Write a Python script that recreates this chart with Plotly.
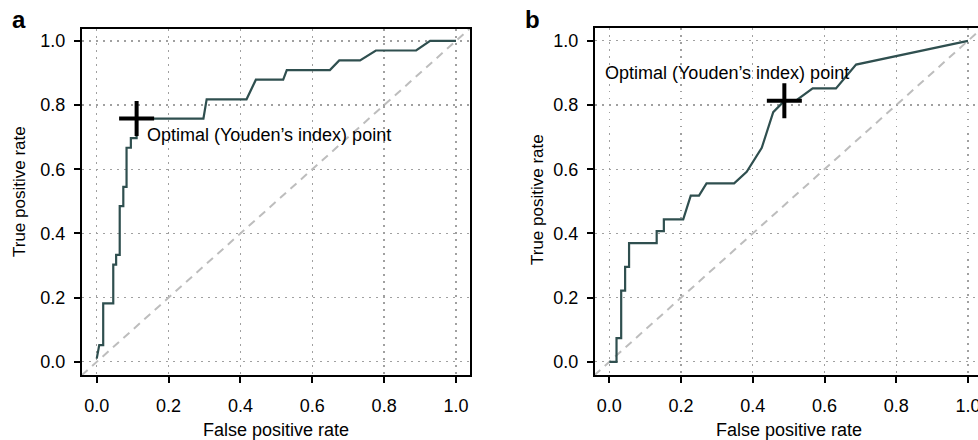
import plotly.graph_objects as go

# ---- data ----
ticks = [0.0, 0.2, 0.4, 0.6, 0.8, 1.0]
tick_labels = ["0.0", "0.2", "0.4", "0.6", "0.8", "1.0"]

fpr_a = [0.0, 0.007, 0.007, 0.018, 0.018, 0.046, 0.046, 0.054, 0.054, 0.064, 0.064,
         0.074, 0.074, 0.083, 0.083, 0.095, 0.095, 0.111, 0.111, 0.297, 0.306, 0.417,
         0.443, 0.519, 0.529, 0.649, 0.675, 0.733, 0.777, 0.889, 0.928, 1.0]
tpr_a = [0.01, 0.045, 0.052, 0.052, 0.182, 0.182, 0.303, 0.303, 0.333, 0.333, 0.485,
         0.485, 0.545, 0.545, 0.667, 0.667, 0.697, 0.697, 0.758, 0.758, 0.818, 0.818,
         0.879, 0.879, 0.909, 0.909, 0.939, 0.939, 0.970, 0.970, 1.0, 1.0]

fpr_b = [0.0, 0.02, 0.02, 0.033, 0.033, 0.044, 0.044, 0.055, 0.055, 0.132, 0.132,
         0.152, 0.152, 0.206, 0.227, 0.25, 0.271, 0.348, 0.383, 0.425, 0.457, 0.49,
         0.522, 0.567, 0.632, 0.688, 1.0]
tpr_b = [0.0, 0.0, 0.074, 0.074, 0.222, 0.222, 0.296, 0.296, 0.370, 0.370, 0.407,
         0.407, 0.444, 0.444, 0.518, 0.518, 0.556, 0.556, 0.592, 0.667, 0.778, 0.815,
         0.815, 0.852, 0.852, 0.926, 1.0]

opt_a = (0.111, 0.758)
opt_b = (0.488, 0.813)
diag = [-0.1, 1.1]

opt_label = "Optimal (Youden’s index) point"
x_title = "False positive rate"
y_title = "True positive rate"

# ---- styling ----
W, H = 978, 440
curve_col = "#2F4F4F"
font = "Liberation Sans, Arial, Helvetica, sans-serif"

def px(x):
    return x / W

def py(y):
    return 1 - y / H

fig = go.Figure()

for xs, ys, xa, ya in [(fpr_a, tpr_a, "x", "y"), (fpr_b, tpr_b, "x2", "y2")]:
    fig.add_trace(go.Scatter(x=diag, y=diag, mode="lines", xaxis=xa, yaxis=ya,
                             line=dict(color="#BDBDBD", width=2, dash="8px,6px"),
                             hoverinfo="skip", showlegend=False))
    fig.add_trace(go.Scatter(x=xs, y=ys, mode="lines", xaxis=xa, yaxis=ya,
                             line=dict(color=curve_col, width=2.2),
                             showlegend=False))

for (ox, oy), xa, ya in [(opt_a, "x", "y"), (opt_b, "x2", "y2")]:
    fig.add_trace(go.Scatter(x=[ox], y=[oy], mode="markers", xaxis=xa, yaxis=ya,
                             marker=dict(symbol="cross-thin", size=25,
                                         line=dict(color="black", width=4)),
                             showlegend=False, cliponaxis=False))

common_axis = dict(
    tickvals=ticks, ticktext=tick_labels, ticks="outside", ticklen=6, tickwidth=2,
    tickcolor="black", showline=True, linecolor="black", linewidth=2,
    showgrid=True, gridcolor="#A0A0A0", gridwidth=1.3, griddash="1.5px,5.5px",
    zeroline=False, automargin=False, ticklabeloverflow="allow",
    tickfont=dict(family=font, size=18, color="black"),
)

fig.update_layout(
    width=W, height=H, margin=dict(l=0, r=0, t=0, b=0),
    paper_bgcolor="white", plot_bgcolor="white",
    font=dict(family=font, size=18, color="black"),
    xaxis=dict(common_axis, domain=[px(82), px(470)], range=[-0.041, 1.039],
               anchor="y", mirror=True, ticklabelstandoff=7),
    yaxis=dict(common_axis, domain=[py(375), py(29)], range=[-0.041, 1.037],
               anchor="x", mirror=True, ticklabelstandoff=5),
    xaxis2=dict(common_axis, domain=[px(595), 1.0], range=[-0.04, 1.028],
                anchor="y2", mirror=True, ticklabelstandoff=7),
    yaxis2=dict(common_axis, domain=[py(375), py(28)], range=[-0.041, 1.04],
                anchor="x2", mirror=False, ticklabelstandoff=5),
)

ann = []
# optimal point labels
ann.append(dict(x=0.134, y=0.707, xref="x", yref="y", text=opt_label, showarrow=False,
                xanchor="left", yanchor="middle", font=dict(size=18)))
ann.append(dict(x=-0.017, y=0.901, xref="x2", yref="y2", text=opt_label, showarrow=False,
                xanchor="left", yanchor="middle", font=dict(size=18)))
# axis titles
ann.append(dict(x=px(276), y=py(430), xref="paper", yref="paper", text=x_title,
                showarrow=False, xanchor="center", yanchor="middle", font=dict(size=18)))
ann.append(dict(x=px(788.5), y=py(430), xref="paper", yref="paper", text=x_title,
                showarrow=False, xanchor="center", yanchor="middle", font=dict(size=18)))
ann.append(dict(x=px(20), y=py(192), xref="paper", yref="paper", text=y_title,
                textangle=-90, showarrow=False, xanchor="center", yanchor="middle",
                font=dict(size=17)))
ann.append(dict(x=px(537), y=py(200), xref="paper", yref="paper", text=y_title,
                textangle=-90, showarrow=False, xanchor="center", yanchor="middle",
                font=dict(size=17)))
# panel labels
ann.append(dict(x=px(19), y=py(20), xref="paper", yref="paper", text="<b>a</b>",
                showarrow=False, xanchor="center", yanchor="middle", font=dict(size=24)))
ann.append(dict(x=px(532), y=py(19), xref="paper", yref="paper", text="<b>b</b>",
                showarrow=False, xanchor="center", yanchor="middle", font=dict(size=24)))
fig.update_layout(annotations=ann)

fig.write_html("out.html", config={"displayModeBar": False, "staticPlot": True},
               post_script="document.body.style.margin='0px';document.body.style.overflow='hidden';")
